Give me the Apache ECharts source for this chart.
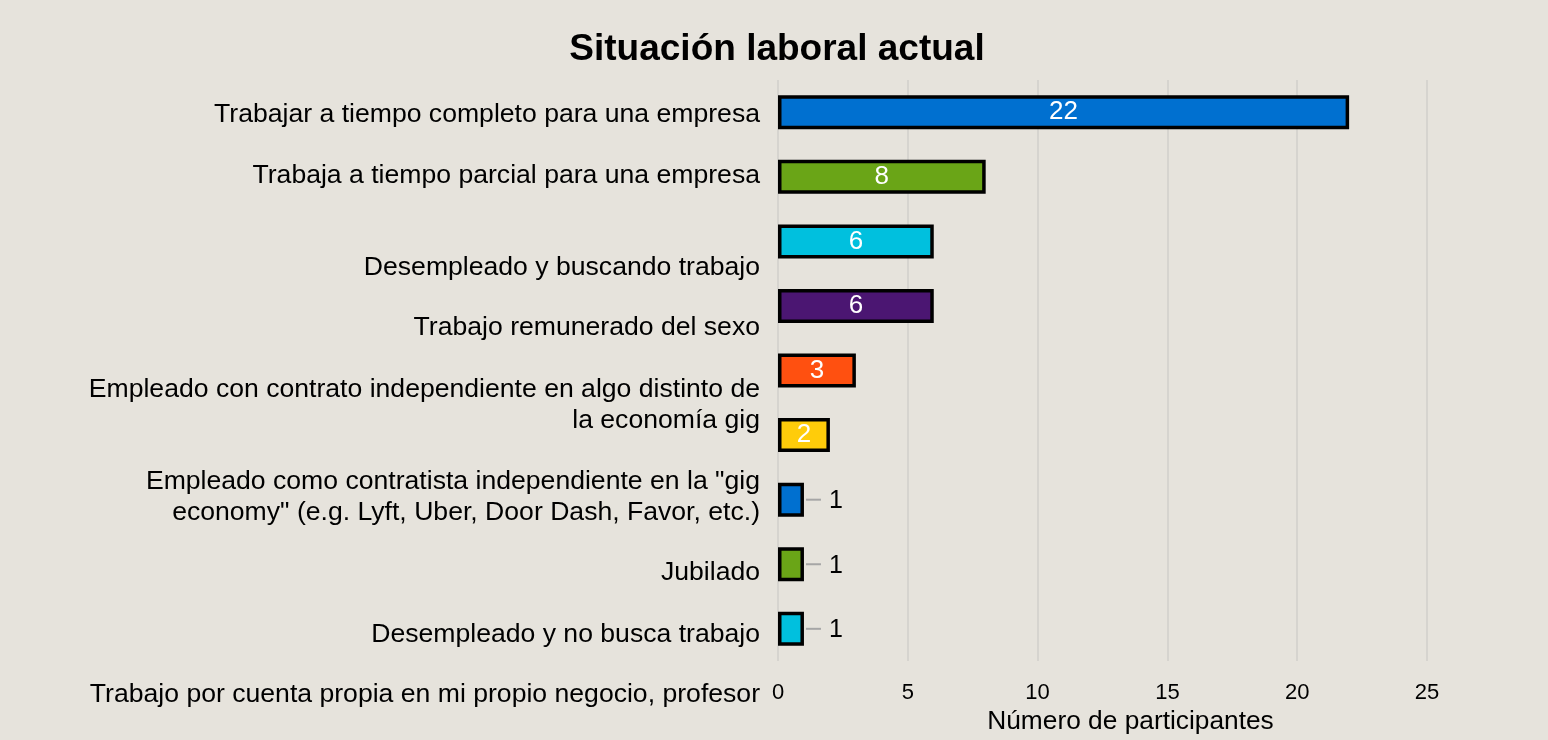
<!DOCTYPE html>
<html>
<head>
<meta charset="utf-8">
<script src="https://cdn.jsdelivr.net/npm/echarts@6/dist/echarts.min.js"></script>
<style>
  html, body { margin: 0; padding: 0; background: #e6e3dc; }
  #chartMain { width: 1548px; height: 740px; }
</style>
</head>
<body>
<div id="chartMain"></div>
<script>
// datos
var categorias = [
  'Trabajar a tiempo completo para una empresa',
  'Trabaja a tiempo parcial para una empresa',
  'Desempleado y buscando trabajo',
  'Trabajo remunerado del sexo',
  'Empleado con contrato independiente en algo distinto de\nla economía gig',
  'Empleado como contratista independiente en la "gig\neconomy" (e.g. Lyft, Uber, Door Dash, Favor, etc.)',
  'Jubilado',
  'Desempleado y no busca trabajo',
  'Trabajo por cuenta propia en mi propio negocio, profesor'
];
var participantes = [22, 8, 6, 6, 3, 2, 1, 1, 1];
var ticksX = [0, 5, 10, 15, 20, 25];

// estilo
var colores = ['#0070d0', '#6aa517', '#00c0de', '#4b1672', '#ff5010', '#ffcc0a'];
// desplazamiento vertical de cada etiqueta (px), como en el original
var desplazar = [2, -1, 26, 22, 35, 62, 73, 70, 66];

// estilos rich: texto + un hueco que empuja la etiqueta arriba/abajo
var richY = { t: { fontSize: 26.6, lineHeight: 31, color: '#000', align: 'right' } };
desplazar.forEach(function (d, i) {
  var h = Math.max(1, Math.abs(2 * d));
  richY['sp' + i] = { fontSize: 1, height: h, lineHeight: h };
});

var myChart = echarts.init(document.getElementById('chartMain'));

var option = {
  backgroundColor: '#e6e3dc',
  textStyle: { fontFamily: '"Liberation Sans", Arial, sans-serif' },
  title: {
    text: 'Situación laboral actual',
    left: 772,
    top: 26,
    textAlign: 'center',
    textStyle: { fontSize: 37, fontWeight: 'bold', color: '#000' }
  },
  grid: { left: 778, right: 121, top: 80, bottom: 77 },
  xAxis: {
    type: 'value',
    min: ticksX[0],
    max: ticksX[ticksX.length - 1],
    interval: 5,
    axisLine: { show: false },
    axisTick: { show: false },
    splitLine: { lineStyle: { color: '#d6d4cf', width: 2 } },
    axisLabel: { color: '#000', fontSize: 22, margin: 21 },
    name: 'Número de participantes',
    nameLocation: 'middle',
    nameGap: 35,
    nameTextStyle: { color: '#000', fontSize: 26.3, padding: [0, 0, 0, 56] }
  },
  yAxis: {
    type: 'category',
    inverse: true,
    data: categorias,
    axisLine: { show: false },
    axisTick: { show: false },
    axisLabel: {
      interval: 0,
      margin: 18,
      align: 'right',
      formatter: function (val, i) {
        var body = val.split('\n').map(function (s) { return '{t|' + s + '}'; }).join('\n');
        var d = desplazar[i];
        if (d > 0) return '{sp' + i + '| }\n' + body;
        if (d < 0) return body + '\n{sp' + i + '| }';
        return body;
      },
      rich: richY
    }
  },
  series: [{
    type: 'bar',
    barWidth: 34,
    data: participantes.map(function (v, i) {
      var item = {
        value: v,
        itemStyle: { color: colores[i % colores.length] }
      };
      if (v < 2) {
        item.label = {
          position: 'right',
          distance: 2,
          color: '#000',
          fontSize: 25,
          formatter: '{ln|}{n|{c}}',
          rich: {
            ln: { width: 15, height: 2, backgroundColor: '#a6a6a6', verticalAlign: 'middle' },
            n: { fontSize: 25, color: '#000', padding: [3, 0, 0, 8] }
          }
        };
      }
      return item;
    }),
    itemStyle: { borderColor: '#000', borderWidth: 3.5 },
    label: {
      show: true,
      position: 'inside',
      color: '#fff',
      fontSize: 26
    },
    animation: false
  }]
};

myChart.setOption(option, true);
</script>
</body>
</html>
